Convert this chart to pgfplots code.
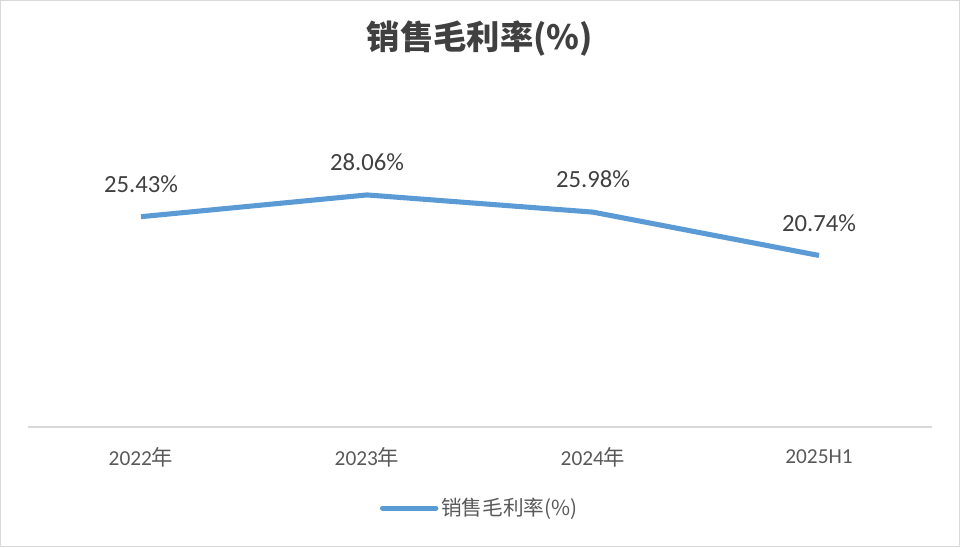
\documentclass[border=0pt]{standalone}
\usepackage{pgfplots}
\pgfplotsset{compat=1.18}
\usepackage{fontspec}
\setmainfont{Carlito}
\newfontfamily\cjk{Noto Sans CJK SC}
\definecolor{linec}{HTML}{5B9BD5}
\definecolor{labc}{HTML}{404040}
\definecolor{tickc}{HTML}{595959}
\definecolor{axc}{HTML}{D9D9D9}
\begin{document}
\begin{tikzpicture}
\path[use as bounding box] (0,0) rectangle (720pt,410.25pt);
\draw[axc, line width=1pt] (0.5pt,0.5pt) rectangle (719.5pt,409.75pt);
\node[text=labc, font=\cjk\bfseries\fontsize{25}{30}\selectfont] at (360pt,381.5pt) {销售毛利率(\%)};
\begin{axis}[
  at={(21pt,90pt)}, anchor=south west,
  scale only axis, width=678pt, height=217.1pt,
  xmin=-0.5, xmax=3.5, ymin=0, ymax=35,
  axis y line=none, axis x line*=bottom,
  x axis line style={draw=axc, line width=1.2pt},
  xtick={0,1,2,3},
  xticklabels={{2022{\cjk 年}},{2023{\cjk 年}},{2024{\cjk 年}},{2025H1}},
  xtick style={draw=none},
  xticklabel style={anchor=center, yshift=-22.5pt, text=tickc, font=\fontsize{16}{19}\selectfont},
  clip=false,
  legend style={at={(0.5,-0.28)}, anchor=center, draw=none, fill=none,
    font=\cjk\fontsize{15.5}{18}\selectfont, text=tickc,
    /tikz/every even column/.append style={column sep=2pt}},
  legend image code/.code={\draw[#1, line cap=round] (0pt,0pt) -- (40pt,0pt);},
  nodes near coords,
  point meta=explicit symbolic,
  every node near coord/.append style={anchor=center, yshift=24.5pt, text=labc, font=\fontsize{18.5}{22}\selectfont},
]
\addplot[color=linec, line width=3.8pt, line join=round] table[meta=lab] {
x y lab
0 25.43 25.43\%
1 28.06 28.06\%
2 25.98 25.98\%
3 20.74 20.74\%
};
\addlegendentry{销售毛利率(\%)}
\end{axis}
\end{tikzpicture}
\end{document}
